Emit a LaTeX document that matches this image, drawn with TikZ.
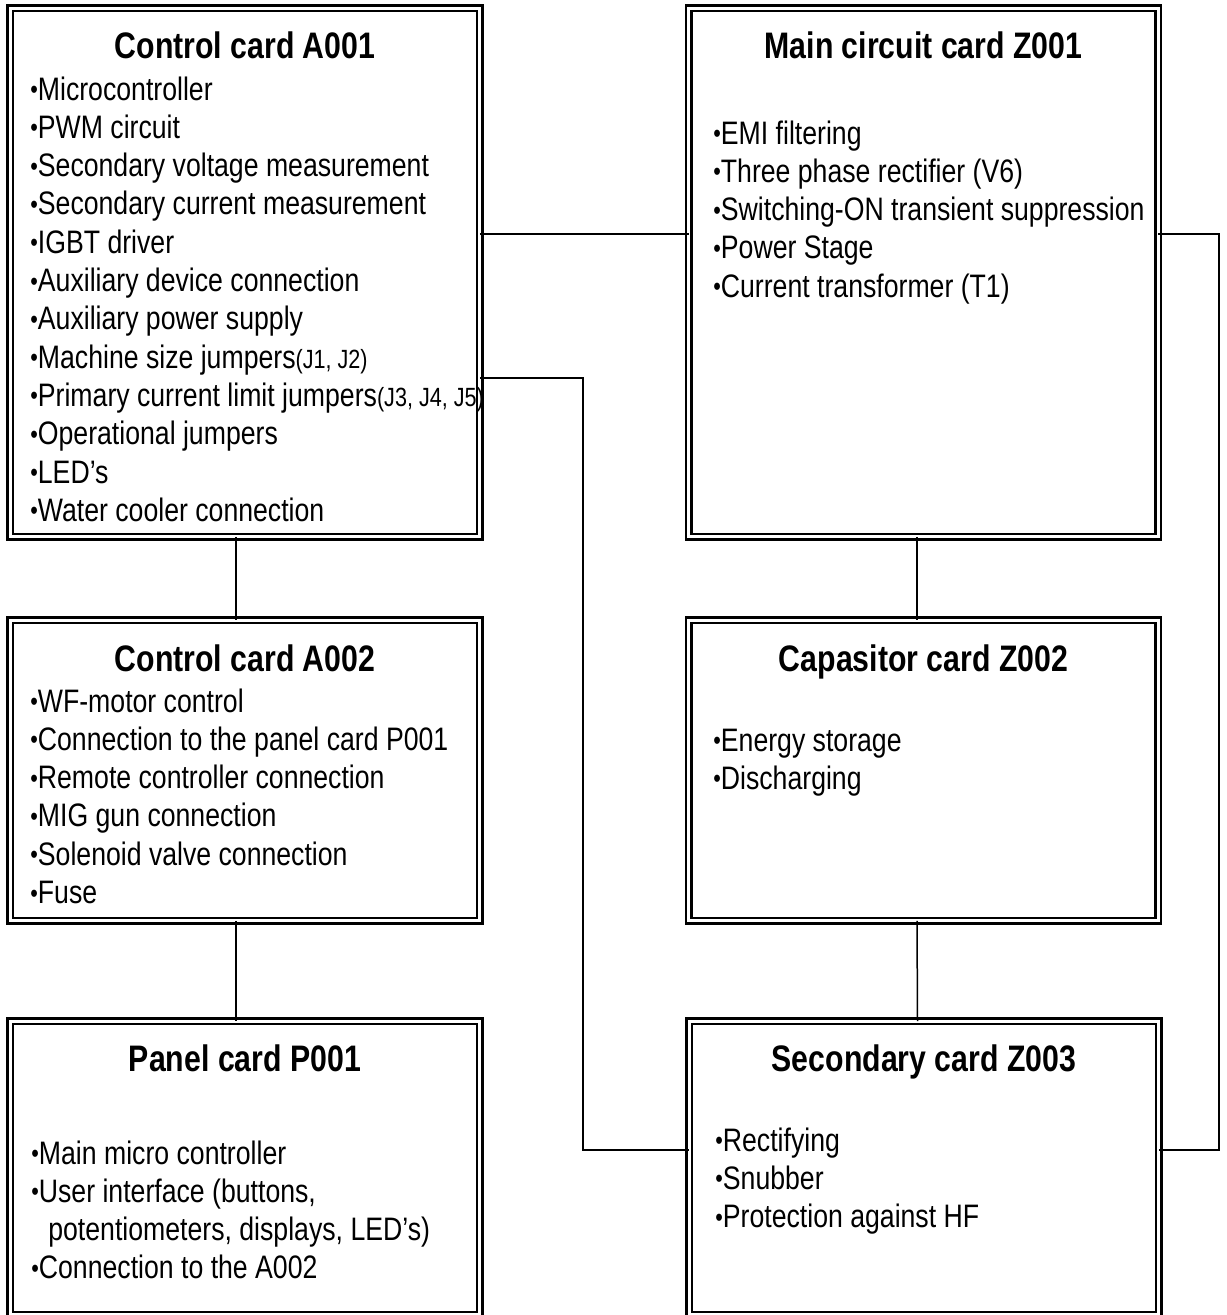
\documentclass[tikz,border=0pt]{standalone}
\usepackage{fontspec}
\setmainfont[FakeStretch=0.82]{Liberation Sans}
\usetikzlibrary{positioning}

\newcommand{\jmp}[1]{{\fontsize{15}{21.8}\selectfont #1}}
\newcommand{\bul}{\raisebox{0.03cm}{\fontsize{15}{15}\selectfont •}}

\begin{document}
\begin{tikzpicture}[
    x=0.02cm, y=-0.02cm,
    card/.style={rectangle, draw, double, line width=0.05cm, double distance=0.06cm, inner sep=0pt, outer sep=0pt, minimum width=9.4cm},
    cardtitle/.style={anchor=base, inner sep=0pt, font=\fontsize{21}{25}\selectfont\bfseries},
    cardlist/.style={anchor=base west, inner sep=0pt, font=\fontsize{18.5}{21.8}\selectfont},
    link/.style={line width=0.03cm}
]
\useasboundingbox (0,0) rectangle (1227,1315);
\clip (0,0) rectangle (1227,1315);

% Control card A001
\node[card, minimum height=10.58cm] (a001) at (245,272.5) {};
\node[cardtitle] (a001t) at (245,58) {Control card A001};
\node[cardlist] (a001l) at (30,100) {
\begin{tabular}[t]{@{}l@{}}
\bul Microcontroller \\
\bul PWM circuit \\
\bul Secondary voltage measurement \\
\bul Secondary current measurement \\
\bul IGBT driver \\
\bul Auxiliary device connection \\
\bul Auxiliary power supply \\
\bul Machine size jumpers\jmp{(J1, J2)} \\
\bul Primary current limit jumpers\jmp{(J3, J4, J5)} \\
\bul Operational jumpers \\
\bul LED’s \\
\bul Water cooler connection \\
\end{tabular}
};

% Main circuit card Z001
\node[card, minimum height=10.58cm] (z001) at (923.5,272.5) {};
\node[cardtitle] (z001t) at (923.5,58) {Main circuit card Z001};
\node[cardlist] (z001l) at (713,144) {
\begin{tabular}[t]{@{}l@{}}
\bul EMI filtering \\
\bul Three phase rectifier (V6) \\
\bul Switching-ON transient suppression \\
\bul Power Stage \\
\bul Current transformer (T1) \\
\end{tabular}
};

% Control card A002
\node[card, minimum height=6.02cm] (a002) at (245,770.5) {};
\node[cardtitle] (a002t) at (245,671) {Control card A002};
\node[cardlist] (a002l) at (30,712) {
\begin{tabular}[t]{@{}l@{}}
\bul WF-motor control \\
\bul Connection to the panel card P001 \\
\bul Remote controller connection \\
\bul MIG gun connection \\
\bul Solenoid valve connection \\
\bul Fuse \\
\end{tabular}
};

% Capasitor card Z002
\node[card, minimum height=6.02cm] (z002) at (923.5,770.5) {};
\node[cardtitle] (z002t) at (923.5,671) {Capasitor card Z002};
\node[cardlist] (z002l) at (713,751) {
\begin{tabular}[t]{@{}l@{}}
\bul Energy storage \\
\bul Discharging \\
\end{tabular}
};

% Panel card P001
\node[card, minimum height=5.88cm] (p001) at (245,1168) {};
\node[cardtitle] (p001t) at (245,1071) {Panel card P001};
\node[cardlist] (p001l) at (31,1164) {
\begin{tabular}[t]{@{}l@{}}
\bul Main micro controller \\
\bul User interface (buttons, \\
\hspace{0.34cm}potentiometers, displays, LED’s) \\
\bul Connection to the A002 \\
\end{tabular}
};

% Secondary card Z003
\node[card, minimum height=5.88cm] (z003) at (924,1168) {};
\node[cardtitle] (z003t) at (924,1071) {Secondary card Z003};
\node[cardlist] (z003l) at (715,1151) {
\begin{tabular}[t]{@{}l@{}}
\bul Rectifying \\
\bul Snubber \\
\bul Protection against HF \\
\end{tabular}
};

% Links between the cards
\draw[link] (a001.east |- 0,234) -- (z001.west |- 0,234);
\draw[link] ([xshift=-0.18cm]a001.south) -- ([xshift=-0.18cm]a002.north);
\draw[link] ([xshift=-0.18cm]a002.south) -- ([xshift=-0.18cm]p001.north);
\draw[link] ([xshift=-0.13cm]z001.south) -- ([xshift=-0.13cm]z002.north);
\draw[link] ([xshift=-0.13cm]z002.south) -- ([xshift=-0.13cm]z003.north);

% Links to the secondary card
\draw[link] (a001.east |- 0,378) -| (583,1150) -- (z003.west |- 0,1150);
\draw[link] (z001.east |- 0,234) -| (1219,1150) -- (z003.east |- 0,1150);

\end{tikzpicture}
\end{document}
